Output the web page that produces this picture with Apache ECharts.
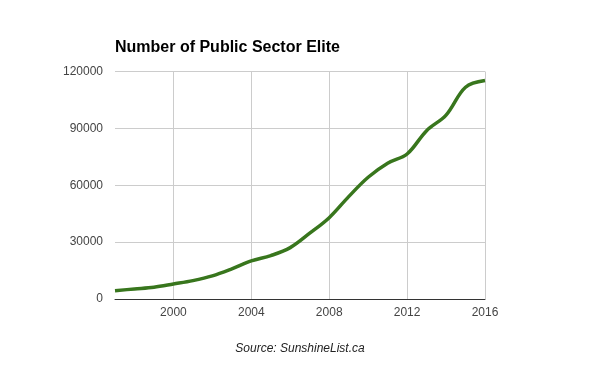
<!DOCTYPE html>
<html>
<head>
<meta charset="utf-8">
<script src="https://cdn.jsdelivr.net/npm/echarts@6/dist/echarts.min.js"></script>
<style>html,body{margin:0;padding:0;background:#fff}#c{width:600px;height:371px}</style>
</head>
<body>
<div id="c"></div>
<script>
var years = [1997,1998,1999,2000,2001,2002,2003,2004,2005,2006,2007,2008,2009,2010,2011,2012,2013,2014,2015,2016];
var counts = [4400,5300,6200,7900,9700,12200,15900,20100,22900,27100,34700,42900,54000,64200,71600,76500,88800,97000,111700,115200];
var xTicks = [2000,2004,2008,2012,2016];
var yTicks = [0,30000,60000,90000,120000];

var chart = echarts.init(document.getElementById('c'), null, {renderer:'canvas'});
chart.setOption({
  animation:false,
  backgroundColor:'#fff',
  title:[{
    text:'Number of Public Sector Elite',
    left:110, top:35,
    textStyle:{fontFamily:'Liberation Sans, Arial', fontSize:16, fontWeight:'bold', color:'#000'}
  },{
    text:'Source: SunshineList.ca',
    left:'center', top:338,
    textStyle:{fontFamily:'Liberation Sans, Arial', fontSize:12, fontStyle:'italic', fontWeight:'normal', color:'#222'}
  }],
  grid:{left:115, right:115, top:71.5, bottom:72, containLabel:false},
  xAxis:{
    type:'value', min:1997, max:2016,
    axisLine:{show:true, onZero:false, lineStyle:{color:'#333', width:1}},
    axisTick:{show:false, customValues:xTicks},
    axisLabel:{customValues:xTicks, formatter:function(v){return String(v);}, color:'#444', fontFamily:'Liberation Sans, Arial', fontSize:12, margin:8},
    splitLine:{show:true, lineStyle:{color:'#ccc', width:1}}
  },
  yAxis:{
    type:'value', min:0, max:120000, interval:30000,
    axisLine:{show:false}, axisTick:{show:false},
    axisLabel:{customValues:yTicks, formatter:function(v){return String(v);}, color:'#444', fontFamily:'Liberation Sans, Arial', fontSize:12, margin:12},
    splitLine:{show:true, lineStyle:{color:'#ccc', width:1}}
  },
  series:[{
    type:'line',
    data:years.map(function(y,i){return [y,counts[i]];}),
    smooth:0.35, showSymbol:false,
    lineStyle:{color:'#38761d', width:3.5},
    itemStyle:{color:'#38761d'}
  }]
});
</script>
</body>
</html>
